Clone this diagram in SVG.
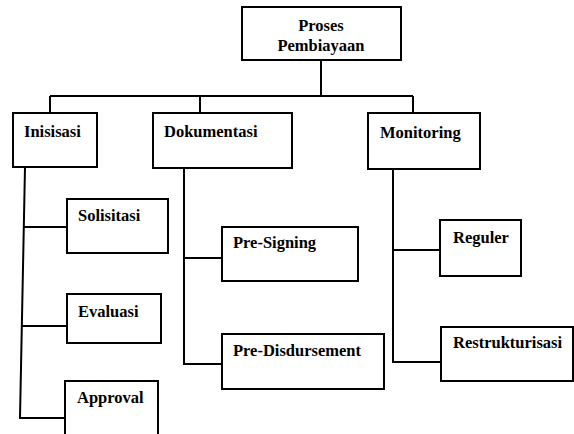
<svg xmlns="http://www.w3.org/2000/svg" width="574" height="434" viewBox="0 0 574 434">
<style>
.box{fill:#fff;stroke:#000;stroke-width:2}
.t{font-family:"Liberation Serif","Times New Roman",serif;font-weight:bold;font-size:16.5px;fill:#000}
.c{fill:none;stroke:#000;stroke-width:2}
</style>
<rect width="574" height="434" fill="#fff"/>
<g id="connectors">
<path class="c" d="M321 60V96M50 96H413M50 96V113M200 96V113M413 96V113"/>
<path class="c" d="M25 167L20 418H65M24 227H67M22 326H67"/>
<path class="c" d="M184 168V364H222M184 258H222"/>
<path class="c" d="M393 169V362H441M393 250H440"/>
</g>
<g id="proses"><rect class="box" x="242" y="7" width="159" height="53"/><text class="t" x="321" y="31" text-anchor="middle">Proses</text><text class="t" x="321" y="51" text-anchor="middle">Pembiayaan</text></g>
<g id="inisisasi"><rect class="box" x="13" y="113" width="84" height="54"/><text class="t" x="24" y="137">Inisisasi</text></g>
<g id="dokumentasi"><rect class="box" x="153" y="113" width="139" height="55"/><text class="t" x="164" y="137">Dokumentasi</text></g>
<g id="monitoring"><rect class="box" x="368" y="113" width="112" height="56"/><text class="t" x="380" y="138">Monitoring</text></g>
<g id="solisitasi"><rect class="box" x="67" y="199" width="101" height="54"/><text class="t" x="78" y="221">Solisitasi</text></g>
<g id="evaluasi"><rect class="box" x="67" y="294" width="94" height="49"/><text class="t" x="78" y="317">Evaluasi</text></g>
<g id="approval"><rect class="box" x="65" y="381" width="93" height="60"/><text class="t" x="77" y="403">Approval</text></g>
<g id="pre-signing"><rect class="box" x="222" y="227" width="136" height="54"/><text class="t" x="233" y="248">Pre-Signing</text></g>
<g id="pre-disdursement"><rect class="box" x="222" y="334" width="162" height="55"/><text class="t" x="233" y="356">Pre-Disdursement</text></g>
<g id="reguler"><rect class="box" x="440" y="220" width="81" height="56"/><text class="t" x="453" y="243">Reguler</text></g>
<g id="restrukturisasi"><rect class="box" x="441" y="327" width="132" height="54"/><text class="t" x="453" y="348">Restrukturisasi</text></g>
</svg>
